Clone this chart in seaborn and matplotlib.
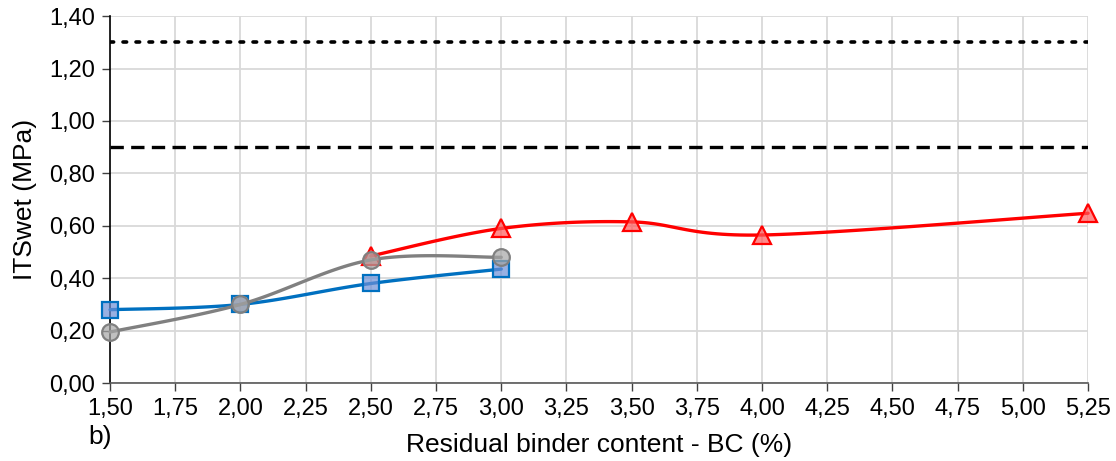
import numpy as np
import pandas as pd
import matplotlib
matplotlib.use("Agg")
import matplotlib.pyplot as plt
from matplotlib.colors import to_rgba
import seaborn as sns

# values
bc_blue = [1.50, 2.00, 2.50, 3.00]
its_blue = [0.28, 0.30, 0.38, 0.435]
bc_gray = [1.50, 2.00, 2.50, 3.00]
its_gray = [0.195, 0.30, 0.47, 0.48]
bc_red = [2.50, 3.00, 3.50, 4.00, 5.25]
its_red = [0.485, 0.59, 0.615, 0.565, 0.648]
limit_dotted = 1.30
limit_dashed = 0.90
x_ticks = [1.50, 1.75, 2.00, 2.25, 2.50, 2.75, 3.00, 3.25, 3.50, 3.75, 4.00, 4.25, 4.50, 4.75, 5.00, 5.25]
y_ticks = [0.0, 0.2, 0.4, 0.6, 0.8, 1.0, 1.2, 1.4]


def smooth(xs, ys, n=30):
    # Excel-like smoothed line (Catmull-Rom -> cubic Bezier) through the points
    px = [xs[0]] + list(xs) + [xs[-1]]
    py = [ys[0]] + list(ys) + [ys[-1]]
    out_x, out_y = [], []
    t = np.linspace(0, 1, n)
    for i in range(1, len(px) - 2):
        p0 = np.array([px[i - 1], py[i - 1]])
        p1 = np.array([px[i], py[i]])
        p2 = np.array([px[i + 1], py[i + 1]])
        p3 = np.array([px[i + 2], py[i + 2]])
        c1 = p1 + (p2 - p0) / 6
        c2 = p2 - (p3 - p1) / 6
        pts = ((1 - t) ** 3)[:, None] * p1 + (3 * (1 - t) ** 2 * t)[:, None] * c1 \
            + (3 * (1 - t) * t ** 2)[:, None] * c2 + (t ** 3)[:, None] * p2
        out_x.extend(pts[:, 0])
        out_y.extend(pts[:, 1])
    return pd.DataFrame({"x": out_x, "y": out_y})


sns.set_style("white")
plt.rcParams["font.family"] = ["Liberation Sans", "DejaVu Sans"]
plt.rcParams["text.color"] = "black"
plt.rcParams["axes.labelcolor"] = "black"

fig, ax = plt.subplots(figsize=(11.16, 4.61), dpi=100)
fig.subplots_adjust(left=0.0986, right=0.975, top=0.965, bottom=0.169)

series = [
    (bc_red, its_red, "#ff0000", "#ff5a5a", "^", 12.5),
    (bc_blue, its_blue, "#0070c0", "#6d8fd6", "s", 11.5),
    (bc_gray, its_gray, "#808080", "#a6a6a6", "o", 12),
]
for i, (xs, ys, lc, fc, mk, ms) in enumerate(series):
    curve = smooth(xs, ys)
    sns.lineplot(data=curve, x="x", y="y", sort=False, color=lc, linewidth=2.4,
                 ax=ax, zorder=3 + i, clip_on=False)
    ax.plot(xs, ys, linestyle="none", marker=mk, markersize=ms,
            markerfacecolor=to_rgba(fc, 0.7), markeredgecolor=lc, markeredgewidth=1.6,
            zorder=3.5 + i, clip_on=False)

ax.axhline(limit_dotted, color="black", linestyle=(0, (1, 2.6)), linewidth=2.6,
           dash_capstyle="round", zorder=2)
ax.axhline(limit_dashed, color="black", linestyle=(0, (4, 2.2)), linewidth=2.4, zorder=2)

ax.set_xlim(1.50, 5.25)
ax.set_ylim(0, 1.40)
ax.set_xticks(x_ticks)
ax.set_yticks(y_ticks)
ax.set_xticklabels([f"{v:.2f}".replace(".", ",") for v in x_ticks], fontsize=17)
ax.set_yticklabels([f"{v:.2f}".replace(".", ",") for v in y_ticks], fontsize=17)
ax.grid(True, color="#d9d9d9", linewidth=1.3)
ax.set_axisbelow(True)
for s in ["top", "right"]:
    ax.spines[s].set_visible(False)
ax.spines["left"].set_color("black")
ax.spines["bottom"].set_color("#595959")
ax.spines["left"].set_linewidth(1.2)
ax.spines["bottom"].set_linewidth(1.2)
ax.tick_params(axis="both", direction="out", length=6, width=1, color="#404040",
               labelcolor="black", bottom=True, left=True, pad=5)

ax.set_xlabel("Residual binder content - BC (%)", fontsize=19, va="center")
ax.xaxis.set_label_coords(0.5, -0.169)
ax.set_ylabel("ITSwet (MPa)", fontsize=19, va="center")
ax.yaxis.set_label_coords(-0.087, 0.5)
fig.text(0.079, 0.052, "b)", fontsize=19, ha="left", va="center")

fig.savefig("out.png", dpi=100)
